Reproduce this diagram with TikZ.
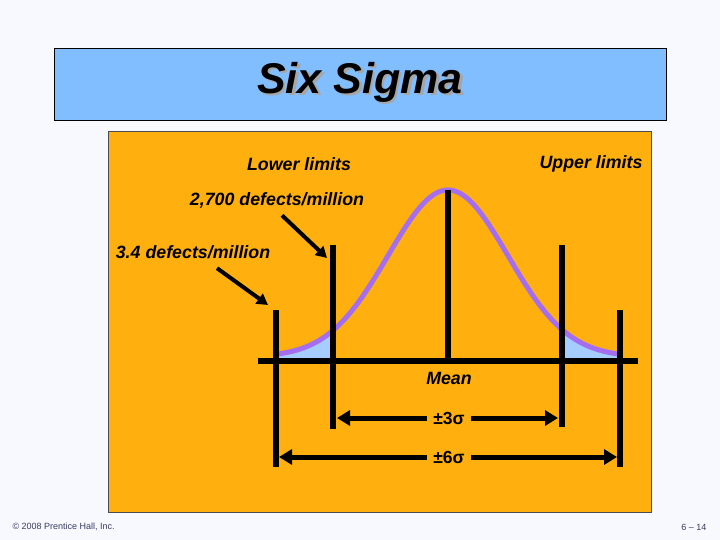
\documentclass[tikz,border=0pt]{standalone}
\usepackage{fontspec}
\setmainfont{Liberation Sans}
\usetikzlibrary{arrows.meta,positioning}
\definecolor{slideBg}{RGB}{247,249,255}
\definecolor{titleBlue}{RGB}{128,190,255}
\definecolor{panelOrange}{RGB}{255,176,15}
\definecolor{curvePurple}{RGB}{165,110,240}
\definecolor{tailBlue}{RGB}{165,205,255}
\definecolor{footGray}{RGB}{60,60,95}
\tikzset{
  lbl/.style={font=\fontsize{17.8}{20}\selectfont\bfseries\itshape},
  sig/.style={font=\fontsize{17.5}{20}\selectfont\bfseries, fill=panelOrange, inner sep=6pt},
  limit/.style={line width=6pt},
  span/.style={line width=5pt, -{Triangle[length=13pt,width=15pt]}},
  callout/.style={line width=4pt, -{Triangle[length=11pt,width=12pt]}},
  foot/.style={font=\fontsize{9}{11}\selectfont, text=footGray},
}
\begin{document}
\begin{tikzpicture}[x=1pt,y=-1pt]
\fill[slideBg] (0,0) rectangle (720,540);
\useasboundingbox (0,0) rectangle (720,540);

% title bar
\draw[fill=titleBlue, line width=0.8pt] (54,48) rectangle (666,120);
\node[font=\fontsize{43}{48}\selectfont\bfseries\itshape, text=black!35] at (362.5,84.5) {Six Sigma};
\node[font=\fontsize{43}{48}\selectfont\bfseries\itshape] (title) at (360,82) {Six Sigma};

% panel
\draw[fill=panelOrange, draw=black!70, line width=0.8pt] (108,131) rectangle (651,512);

% tails beyond the 3 sigma limits
\fill[tailBlue] (276,358)
  -- plot[smooth, samples=40, domain=276:333] ({\x},{357-167*exp(-0.5*((\x-448)/60)^2)})
  -- (333,358) -- cycle;
\fill[tailBlue] (562,358)
  -- plot[smooth, samples=40, domain=562:620] ({\x},{357-167*exp(-0.5*((\x-448)/60)^2)})
  -- (620,358) -- cycle;

% normal curve
\draw[curvePurple, line width=5pt, smooth, samples=150, domain=276:620]
  plot ({\x},{357-167*exp(-0.5*((\x-448)/60)^2)});

% axis and limits
\draw[limit] (258,361) -- (638,361);
\draw[limit] (276,310) -- (276,467);
\draw[limit] (333,245) -- (333,429);
\draw[limit] (448,190) -- (448,361);
\draw[limit] (562,245) -- (562,427);
\draw[limit] (620,310) -- (620,467);

% labels
\node[lbl] (lower) at (299,164) {Lower limits};
\node[lbl] (upper) at (591,164) {Upper limits};
\node[lbl] (ppm2700) at (277,200) {2,700 defects/million};
\node[lbl] (ppm34) at (193,252) {3.4 defects/million};
\node[lbl] (mean) at (449,378) {Mean};
\node[sig] (pm3) at (449,418) {±3σ};
\node[sig] (pm6) at (449,457) {±6σ};

% callouts
\coordinate (tip2700) at (327,258);
\coordinate (tip34) at (268,305);
\draw[callout] ([xshift=5pt,yshift=-4pt]ppm2700.south) -- (tip2700);
\draw[callout] ([xshift=24pt,yshift=-6pt]ppm34.south) -- (tip34);

% spans
\coordinate (l3) at (337,418);
\coordinate (r3) at (558,418);
\coordinate (l6) at (279,457);
\coordinate (r6) at (617,457);
\draw[span] (pm3) -- (l3);
\draw[span] (pm3) -- (r3);
\draw[span] (pm6) -- (l6);
\draw[span] (pm6) -- (r6);

% footer
\node[foot, anchor=west] (copy) at (9,527) {© 2008 Prentice Hall, Inc.};
\node[foot, anchor=east] (page) at (710,527) {6 – 14};
\end{tikzpicture}
\end{document}
